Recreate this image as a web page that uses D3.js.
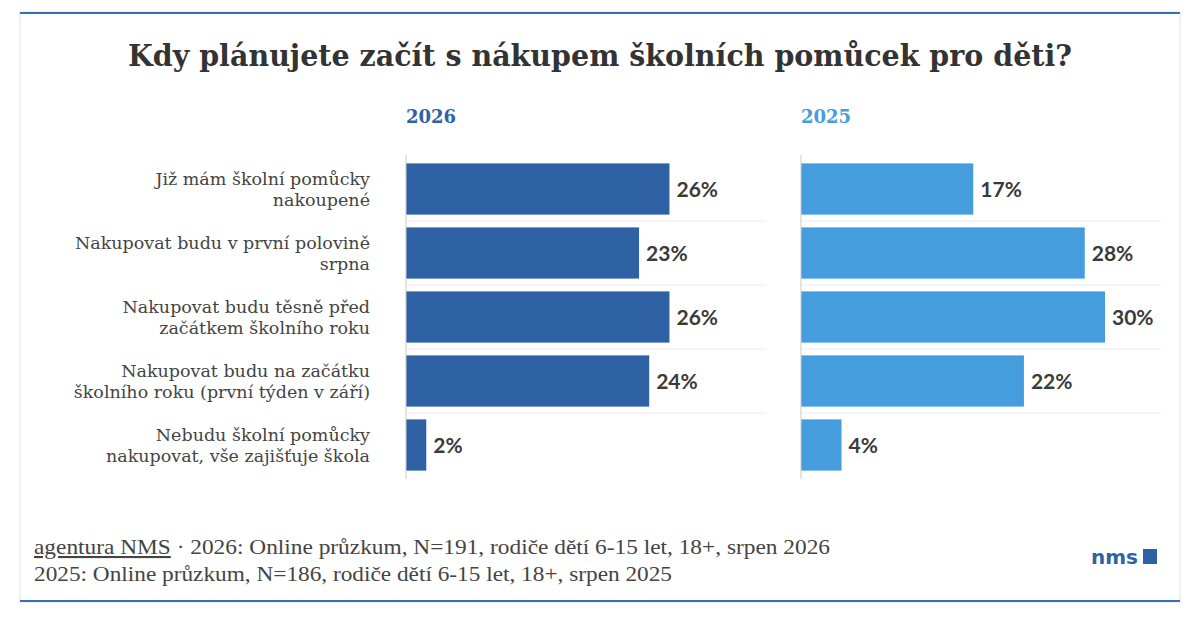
<!DOCTYPE html>
<html><head><meta charset="utf-8">
<script src="https://cdn.jsdelivr.net/npm/d3@7"></script>
<style>body{margin:0;background:#fff}</style>
</head><body>
<script>
const categories = [
  ["Již mám školní pomůcky", "nakoupené"],
  ["Nakupovat budu v první polovině", "srpna"],
  ["Nakupovat budu těsně před", "začátkem školního roku"],
  ["Nakupovat budu na začátku", "školního roku (první týden v září)"],
  ["Nebudu školní pomůcky", "nakupovat, vše zajišťuje škola"]
];
const values2026 = [26, 23, 26, 24, 2];
const values2025 = [17, 28, 30, 22, 4];
const seriesNames = ["2026", "2025"];
const colors = ["#2f62a5", "#469ddd"];

const svg = d3.select("body").append("svg").attr("width", 1200).attr("height", 628);

// card
svg.append("rect").attr("x", 20).attr("y", 12).attr("width", 1160).attr("height", 590)
  .attr("fill", "#fff").attr("stroke", "#e2e2e2");
svg.append("line").attr("x1", 20).attr("x2", 1180).attr("y1", 13).attr("y2", 13).attr("stroke", "#3a6db5").attr("stroke-width", 2);
svg.append("line").attr("x1", 20).attr("x2", 1180).attr("y1", 601).attr("y2", 601).attr("stroke", "#3a6db5").attr("stroke-width", 2);

svg.append("text").attr("x", 600).attr("y", 66).attr("text-anchor", "middle")
  .attr("font-family", "DejaVu Serif").attr("font-weight", "bold").attr("font-size", 29)
  .attr("fill", "#333").attr("textLength", 944).attr("lengthAdjust", "spacingAndGlyphs")
  .text("Kdy plánujete začít s nákupem školních pomůcek pro děti?");

const y = d3.scaleBand().domain(d3.range(categories.length)).range([157, 477]).paddingInner(0.2).paddingOuter(0.1);
const x = d3.scaleLinear().domain([0, 30]).range([0, 304]);

// row labels
const lab = svg.append("g").attr("font-family", "DejaVu Serif").attr("font-size", 17.5).attr("fill", "#444");
categories.forEach((c, i) => {
  const t = lab.append("text").attr("text-anchor", "end").attr("x", 370)
    .attr("y", y(i) + y.bandwidth() / 2 - 4);
  t.append("tspan").attr("x", 370).text(c[0]);
  t.append("tspan").attr("x", 370).attr("dy", 21).text(c[1]);
});

[values2026, values2025].forEach((vals, s) => {
  const x0 = s === 0 ? 406 : 801;
  const g = svg.append("g").attr("transform", `translate(${x0},0)`);
  g.append("text").attr("x", 0).attr("y", 123).attr("font-family", "DejaVu Serif")
    .attr("font-weight", "bold").attr("font-size", 18).attr("fill", colors[s]).text(seriesNames[s]);
  g.selectAll("line.sep").data(d3.range(1, categories.length)).enter().append("line")
    .attr("class", "sep").attr("x1", 0).attr("x2", 360)
    .attr("y1", d => y(d) - y.step() * y.paddingInner() / 2)
    .attr("y2", d => y(d) - y.step() * y.paddingInner() / 2)
    .attr("stroke", "#ececec");
  g.selectAll("rect").data(vals).enter().append("rect")
    .attr("x", 0).attr("y", (d, i) => y(i)).attr("width", d => x(d)).attr("height", y.bandwidth())
    .attr("fill", colors[s]);
  g.append("line").attr("x1", 0).attr("x2", 0).attr("y1", 155).attr("y2", 479).attr("stroke", "#c8c8c8");
  g.selectAll("text.v").data(vals).enter().append("text").attr("class", "v")
    .attr("x", d => x(d) + 7).attr("y", (d, i) => y(i) + y.bandwidth() / 2 + 8)
    .attr("font-family", "Lato").attr("font-weight", "bold").attr("font-size", 21).attr("fill", "#3a3a3a")
    .text(d => d + "%");
});

// footer
const f = svg.append("g").attr("font-family", "Liberation Serif").attr("font-size", 21).attr("fill", "#444");
const f1 = f.append("text").attr("x", 34).attr("y", 554).attr("textLength", 796).attr("lengthAdjust", "spacingAndGlyphs");
f1.append("tspan").attr("text-decoration", "underline").text("agentura NMS");
f1.append("tspan").text(" · 2026: Online průzkum, N=191, rodiče dětí 6-15 let, 18+, srpen 2026");
f.append("text").attr("x", 34).attr("y", 581).attr("textLength", 638).attr("lengthAdjust", "spacingAndGlyphs")
  .text("2025: Online průzkum, N=186, rodiče dětí 6-15 let, 18+, srpen 2025");

svg.append("text").attr("x", 1138).attr("y", 564).attr("text-anchor", "end")
  .attr("font-family", "DejaVu Sans").attr("font-weight", "bold").attr("font-size", 20).attr("fill", "#2f62a5").text("nms");
svg.append("rect").attr("x", 1143).attr("y", 549).attr("width", 14).attr("height", 15).attr("fill", "#2f62a5");
</script>
</body></html>
